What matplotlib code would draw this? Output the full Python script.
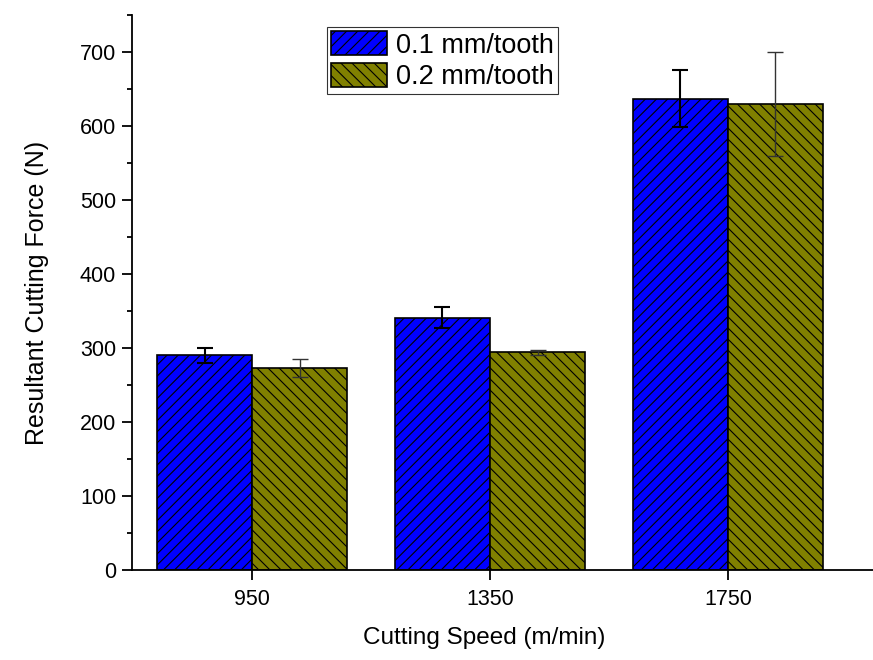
import matplotlib.pyplot as plt
import numpy as np

plt.rcParams['font.family'] = ['Liberation Sans', 'DejaVu Sans']
plt.rcParams['hatch.linewidth'] = 0.8

speeds = ['950', '1350', '1750']
series = ['0.1 mm/tooth', '0.2 mm/tooth']
force_01 = [290, 341, 637]
err_01 = [10, 14, 38]
force_02 = [273, 294, 630]
err_02 = [12, 3, 70]

fig = plt.figure(figsize=(8.73, 6.6), dpi=100)
ax = fig.add_axes([0.1512, 0.1364, 0.8488, 0.8409])

x = np.arange(1, len(speeds) + 1)
w = 0.4
ax.bar(x - w / 2, force_01, w, color='#0000ff', edgecolor='black', hatch='///',
       linewidth=1.2, label=series[0])
ax.bar(x + w / 2, force_02, w, color='#808000', edgecolor='black', hatch='\\\\\\',
       linewidth=1.2, label=series[1])
ax.errorbar(x - w / 2, force_01, yerr=err_01, fmt='none', ecolor='black',
            elinewidth=1.5, capsize=5.5, capthick=1.5)
ax.errorbar(x + w / 2, force_02, yerr=err_02, fmt='none', ecolor='#333333',
            elinewidth=1.0, capsize=5.5, capthick=1.0)

ax.set_xlim(0.495, 3.61)
ax.set_ylim(0, 750)
ax.set_xticks(x)
ax.set_xticklabels(speeds)
ax.set_yticks(range(0, 701, 100))
ax.set_yticks(range(50, 751, 100), minor=True)
ax.tick_params(axis='both', which='major', direction='out', length=7.5, width=1.3,
               labelsize=15.5, pad=4)
ax.tick_params(axis='x', which='major', pad=6)
ax.tick_params(axis='y', which='minor', direction='out', length=3.6, width=1.3)
for s in ['top', 'right']:
    ax.spines[s].set_visible(False)
for s in ['left', 'bottom']:
    ax.spines[s].set_linewidth(1.3)

ax.set_xlabel('Cutting Speed (m/min)', fontsize=17.5, labelpad=12)
ax.xaxis.set_label_coords(0.475, -0.102)
ax.set_ylabel('Resultant Cutting Force (N)', fontsize=18, labelpad=22)

leg = ax.legend(loc='upper left', bbox_to_anchor=(0.374, 0.959),
                bbox_transform=fig.transFigure, fontsize=19.5, frameon=True,
                fancybox=False, edgecolor='black', handlelength=2.1,
                handleheight=1.0, borderpad=0.15, labelspacing=0.15,
                handletextpad=0.3, borderaxespad=0)
leg.get_frame().set_linewidth(0.8)

fig.savefig('out.png', dpi=100)
